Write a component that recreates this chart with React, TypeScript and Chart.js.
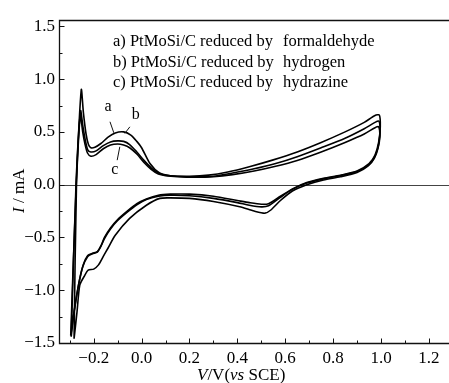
import React, { useEffect, useRef } from 'react';
import { Chart, registerables } from 'chart.js';

Chart.register(...registerables);

// ---------- data ----------
const xTickValues = [-3, -2, -1, 0, 1, 2, 3, 4, 5, 6, 7, 8, 9, 10, 11, 12].map((k) => k / 10);
const yTickValues = [-1.5, -1.0, -0.5, 0.0, 0.5, 1.0, 1.5];
const yMinorValues = [-1.25, -0.75, -0.25, 0.25, 0.75, 1.25];

const seriesNames = [
  'a) PtMoSi/C reduced by',
  'b) PtMoSi/C reduced by',
  'c) PtMoSi/C reduced by',
];
const seriesAgents = ['formaldehyde', 'hydrogen', 'hydrazine'];

// a) reduced by formaldehyde  (potential V vs SCE, current mA)
const curveAV = [-0.296, -0.273, -0.252, -0.243, -0.232, -0.222, -0.212, -0.195, -0.17, -0.14, -0.11, -0.075, -0.045, -0.02, 0.0, 0.035, 0.075, 0.12, 0.2, 0.28, 0.36, 0.45, 0.55, 0.65, 0.75, 0.85, 0.93, 0.975, 0.993, 0.997, 0.99, 0.975, 0.95, 0.9, 0.83, 0.76, 0.69, 0.63, 0.58, 0.53, 0.5, 0.45, 0.4, 0.3, 0.2, 0.12, 0.07, 0.02, -0.02, -0.06, -0.1, -0.13, -0.155, -0.17, -0.185, -0.205, -0.225, -0.244, -0.262, -0.28, -0.296];
const curveAI = [-1.43, 0.0, 0.9, 0.68, 0.48, 0.38, 0.35, 0.355, 0.39, 0.45, 0.49, 0.5, 0.47, 0.41, 0.35, 0.2, 0.11, 0.085, 0.08, 0.09, 0.12, 0.17, 0.235, 0.31, 0.4, 0.5, 0.59, 0.655, 0.66, 0.55, 0.4, 0.28, 0.2, 0.13, 0.09, 0.06, 0.02, -0.04, -0.11, -0.18, -0.185, -0.17, -0.15, -0.11, -0.09, -0.09, -0.1, -0.135, -0.18, -0.25, -0.33, -0.41, -0.5, -0.58, -0.635, -0.65, -0.67, -0.76, -0.93, -1.18, -1.43];

// b) reduced by hydrogen
const curveBV = [-0.294, -0.274, -0.255, -0.245, -0.235, -0.225, -0.212, -0.19, -0.16, -0.13, -0.1, -0.075, -0.05, -0.02, 0.01, 0.04, 0.07, 0.1, 0.15, 0.22, 0.3, 0.38, 0.47, 0.56, 0.65, 0.75, 0.85, 0.93, 0.975, 0.992, 0.996, 0.99, 0.975, 0.95, 0.9, 0.83, 0.76, 0.69, 0.63, 0.58, 0.53, 0.5, 0.45, 0.4, 0.3, 0.2, 0.12, 0.07, 0.02, -0.02, -0.06, -0.1, -0.13, -0.155, -0.17, -0.185, -0.205, -0.225, -0.246, -0.264, -0.282, -0.294];
const curveBI = [-1.44, 0.0, 0.7, 0.55, 0.42, 0.33, 0.31, 0.32, 0.37, 0.405, 0.415, 0.41, 0.38, 0.31, 0.23, 0.16, 0.11, 0.09, 0.08, 0.075, 0.08, 0.11, 0.15, 0.2, 0.265, 0.35, 0.44, 0.53, 0.59, 0.6, 0.5, 0.38, 0.27, 0.19, 0.125, 0.085, 0.055, 0.015, -0.045, -0.12, -0.2, -0.21, -0.195, -0.17, -0.13, -0.105, -0.1, -0.11, -0.14, -0.19, -0.26, -0.34, -0.42, -0.51, -0.585, -0.64, -0.655, -0.68, -0.78, -0.96, -1.2, -1.44];

// c) reduced by hydrazine
const curveCV = [-0.282, -0.272, -0.256, -0.246, -0.236, -0.226, -0.212, -0.19, -0.16, -0.13, -0.1, -0.075, -0.05, -0.02, 0.01, 0.04, 0.07, 0.1, 0.15, 0.22, 0.3, 0.38, 0.47, 0.56, 0.65, 0.75, 0.85, 0.93, 0.975, 0.99, 0.995, 0.988, 0.972, 0.945, 0.9, 0.83, 0.76, 0.69, 0.63, 0.58, 0.54, 0.515, 0.47, 0.41, 0.3, 0.2, 0.12, 0.076, 0.02, -0.05, -0.11, -0.14, -0.16, -0.18, -0.2, -0.223, -0.24, -0.258, -0.27, -0.282];
const curveCI = [-1.46, 0.0, 0.66, 0.5, 0.38, 0.3, 0.27, 0.285, 0.34, 0.375, 0.385, 0.375, 0.35, 0.29, 0.21, 0.145, 0.1, 0.085, 0.075, 0.07, 0.075, 0.095, 0.13, 0.175, 0.23, 0.31, 0.4, 0.48, 0.54, 0.55, 0.46, 0.35, 0.25, 0.175, 0.115, 0.075, 0.045, 0.0, -0.06, -0.15, -0.24, -0.27, -0.25, -0.21, -0.16, -0.13, -0.125, -0.13, -0.195, -0.32, -0.48, -0.6, -0.68, -0.76, -0.8, -0.81, -0.87, -0.95, -1.21, -1.46];

// curve labels and their leader lines (data coordinates)
const labelTexts = ['a', 'b', 'c'];
const labelV = [-0.14, -0.024, -0.112];
const labelI = [0.738, 0.659, 0.138];
const leaderV1 = [-0.132, -0.049, -0.102];
const leaderI1 = [0.596, 0.548, 0.232];
const leaderV2 = [-0.116, -0.07, -0.091];
const leaderI2 = [0.491, 0.486, 0.359];

const SERIF = "'Liberation Serif', 'Times New Roman', serif";

function toPoints(vs: number[], is: number[]) {
  return vs.map((v, k) => ({ x: v, y: is[k] }));
}

function fmt(v: number) {
  const s = Math.abs(v).toFixed(1);
  return v < -1e-9 ? '\u2212' + s : s;
}

const decorPlugin = {
  id: 'decor',
  beforeDatasetsDraw(chart: any) {
    const { ctx, chartArea } = chart;
    const y = chart.scales.y;
    const y0 = Math.round(y.getPixelForValue(0)) + 0.5;
    ctx.save();
    ctx.strokeStyle = '#444';
    ctx.lineWidth = 1.2;
    ctx.beginPath();
    ctx.moveTo(chartArea.left, y0);
    ctx.lineTo(chartArea.right, y0);
    ctx.stroke();
    ctx.restore();
  },
  afterDraw(chart: any) {
    const { ctx, chartArea } = chart;
    const xs = chart.scales.x;
    const ys = chart.scales.y;
    const L = chartArea.left + 0.5;
    const T = chartArea.top + 0.5;
    const B = chartArea.bottom + 0.5;
    const R = chartArea.right;
    ctx.save();
    ctx.strokeStyle = '#111';
    ctx.lineWidth = 1.3;
    ctx.beginPath();
    ctx.moveTo(R, T);
    ctx.lineTo(L, T);
    ctx.lineTo(L, B);
    ctx.lineTo(R, B);
    ctx.stroke();

    // inward tick marks
    ctx.lineWidth = 1;
    ctx.beginPath();
    xTickValues.forEach((v) => {
      const k = Math.round(v * 10);
      const len = k % 2 === 0 ? 5 : 3;
      const px = Math.round(xs.getPixelForValue(v)) + 0.5;
      ctx.moveTo(px, B);
      ctx.lineTo(px, B - len);
    });
    yTickValues.forEach((v) => {
      const py = Math.round(ys.getPixelForValue(v)) + 0.5;
      ctx.moveTo(L, py);
      ctx.lineTo(L + 5, py);
    });
    yMinorValues.forEach((v) => {
      const py = Math.round(ys.getPixelForValue(v)) + 0.5;
      ctx.moveTo(L, py);
      ctx.lineTo(L + 3, py);
    });
    ctx.stroke();

    // curve labels and leader lines
    ctx.fillStyle = '#000';
    ctx.font = `16px ${SERIF}`;
    ctx.textAlign = 'center';
    ctx.textBaseline = 'middle';
    labelTexts.forEach((t, k) => {
      ctx.fillText(t, xs.getPixelForValue(labelV[k]), ys.getPixelForValue(labelI[k]));
      ctx.beginPath();
      ctx.moveTo(xs.getPixelForValue(leaderV1[k]), ys.getPixelForValue(leaderI1[k]));
      ctx.lineTo(xs.getPixelForValue(leaderV2[k]), ys.getPixelForValue(leaderI2[k]));
      ctx.stroke();
    });

    // legend text
    ctx.textAlign = 'left';
    ctx.textBaseline = 'alphabetic';
    ctx.font = `16.5px ${SERIF}`;
    const legendBase = [45.5, 67, 86.5];
    seriesNames.forEach((t, k) => {
      ctx.fillText(t, chartArea.left + 54, legendBase[k]);
      ctx.fillText(seriesAgents[k], chartArea.left + 224, legendBase[k]);
    });

    // x axis title: V/V(vs SCE)
    const parts: [string, boolean][] = [['V', true], ['/V(', false], ['vs', true], [' SCE)', false]];
    let x = 197;
    const yb = 380;
    parts.forEach(([t, it]) => {
      ctx.font = `${it ? 'italic ' : ''}17px ${SERIF}`;
      ctx.fillText(t, x, yb);
      x += ctx.measureText(t).width;
    });

    // y axis title: I / mA (rotated)
    ctx.translate(24, 213);
    ctx.rotate(-Math.PI / 2);
    const yparts: [string, boolean][] = [['I', true], [' / mA', false]];
    let xx = 0;
    yparts.forEach(([t, it]) => {
      ctx.font = `${it ? 'italic ' : ''}17px ${SERIF}`;
      ctx.fillText(t, xx, 0);
      xx += ctx.measureText(t).width;
    });
    ctx.restore();
  },
};

export default function App() {
  const ref = useRef<HTMLCanvasElement | null>(null);
  useEffect(() => {
    if (!ref.current) return;
    const line = { borderColor: '#000', borderWidth: 1.6, pointRadius: 0, showLine: true, tension: 0.25, fill: false };
    const chart = new Chart(ref.current, {
      type: 'scatter',
      data: {
        datasets: [
          { label: 'a', data: toPoints(curveAV, curveAI), ...line },
          { label: 'b', data: toPoints(curveBV, curveBI), ...line },
          { label: 'c', data: toPoints(curveCV, curveCI), ...line },
        ],
      },
      options: {
        animation: false,
        responsive: false,
        events: [],
        layout: { padding: { top: 20, left: 0, right: 0, bottom: 0 } },
        plugins: { legend: { display: false }, tooltip: { enabled: false }, title: { display: false } },
        scales: {
          x: {
            type: 'linear',
            min: -0.345,
            max: 1.284,
            grid: { display: false, drawTicks: false },
            border: { display: false },
            afterFit: (s: any) => { s.height = 40; },
            afterBuildTicks: (s: any) => { s.ticks = xTickValues.map((v) => ({ value: v })); },
            ticks: {
              autoSkip: false,
              maxRotation: 0,
              padding: 5,
              color: '#000',
              font: { family: SERIF, size: 17 },
              callback: (v: any) => (Math.round(Number(v) * 10) % 2 === 0 ? fmt(Number(v)) : ''),
            },
          },
          y: {
            type: 'linear',
            min: -1.5,
            max: 1.56,
            grid: { display: false, drawTicks: false },
            border: { display: false },
            afterFit: (s: any) => { s.width = 59; },
            afterBuildTicks: (s: any) => { s.ticks = yTickValues.map((v) => ({ value: v })); },
            ticks: {
              padding: 4,
              color: '#000',
              font: { family: SERIF, size: 17 },
              callback: (v: any) => fmt(Number(v)),
            },
          },
        },
      },
      plugins: [decorPlugin],
    } as any);
    return () => chart.destroy();
  }, []);
  return (
    <div style={{ position: 'fixed', left: 0, top: 0, width: 449, height: 383, background: '#fff' }}>
      <canvas ref={ref} width={449} height={383} style={{ display: 'block' }} />
    </div>
  );
}
